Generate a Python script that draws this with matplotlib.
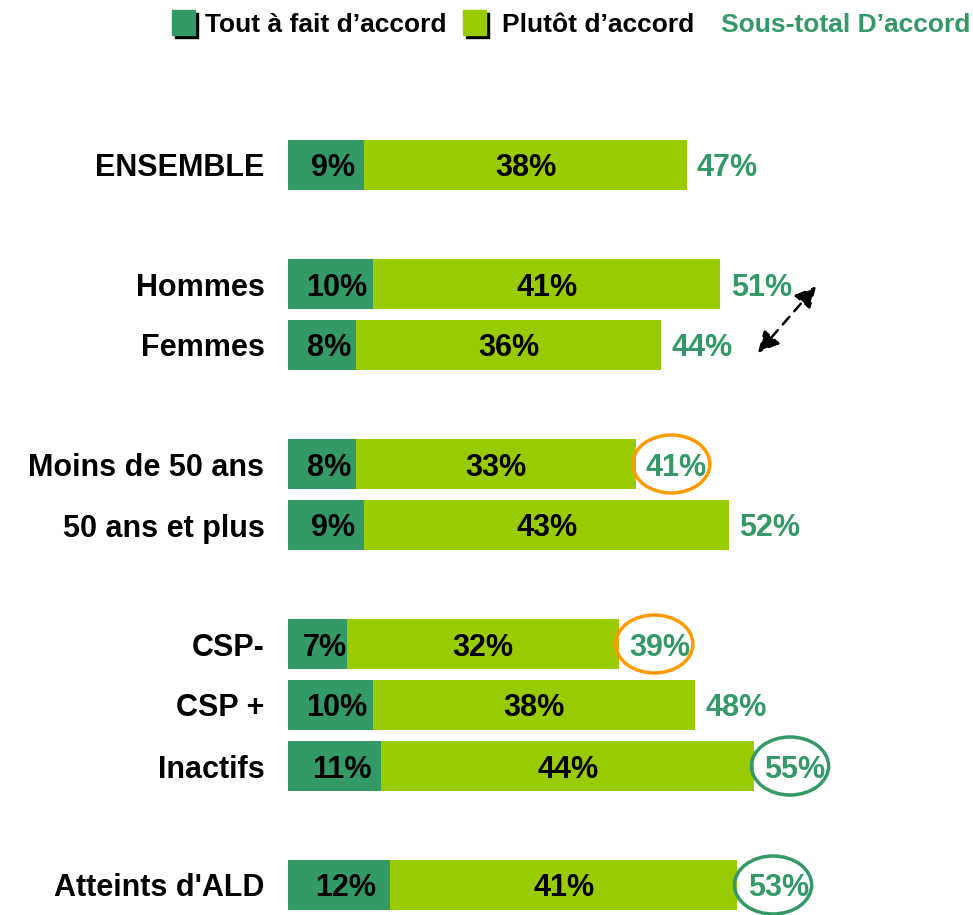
import matplotlib
matplotlib.use('Agg')
import matplotlib.pyplot as plt
from matplotlib.patches import Rectangle, Ellipse

plt.rcParams['font.family'] = ['Liberation Sans', 'DejaVu Sans']
plt.rcParams['font.weight'] = 'bold'

# Données
categories = ['ENSEMBLE', 'Hommes', 'Femmes', 'Moins de 50 ans', '50 ans et plus',
              'CSP-', 'CSP +', 'Inactifs', "Atteints d'ALD"]
groupes = [0, 1, 1, 2, 2, 3, 3, 3, 4]
tout_a_fait = [9, 10, 8, 8, 9, 7, 10, 11, 12]
plutot = [38, 41, 36, 33, 43, 32, 38, 44, 41]
sous_total = [47, 51, 44, 41, 52, 39, 48, 55, 53]
cercles = {"Moins de 50 ans": '#FF9900', 'CSP-': '#FF9900',
           'Inactifs': '#339966', "Atteints d'ALD": '#339966'}

vert_fonce = '#339966'
vert_clair = '#99CC00'

W, H = 973, 915
fig = plt.figure(figsize=(W / 100, H / 100), dpi=100)
px_pct = 8.48
x0 = 288
ax = fig.add_axes([x0 / W, 0, (W - x0) / W, 1])
ax.set_xlim(0, (W - x0) / px_pct)
ax.set_ylim(H, 0)

# positions verticales (pixels) : rangées de 61 px, espace de 58 px entre groupes
y = [165 + i * 61 + g * 58 for i, g in enumerate(groupes)]

ax.barh(y, tout_a_fait, height=50, color=vert_fonce)
ax.barh(y, plutot, left=tout_a_fait, height=50, color=vert_clair)

for yi, a, b, t, cat in zip(y, tout_a_fait, plutot, sous_total, categories):
    ax.text(a / 2 + 0.8, yi, f'{a}%', ha='center', va='center_baseline', fontsize=22, color='black')
    ax.text(a + b / 2, yi, f'{b}%', ha='center', va='center_baseline', fontsize=22, color='black')
    ax.text(t + 1.2, yi, f'{t}%', ha='left', va='center_baseline', fontsize=22, color=vert_fonce)
    if cat in cercles:
        ax.add_patch(Ellipse((t + 4.2, yi), 9.1, 58, fill=False,
                             edgecolor=cercles[cat], linewidth=2.5, clip_on=False))

ax.set_yticks(y)
ax.set_yticklabels(categories, fontsize=22)
ax.tick_params(axis='y', length=0, pad=17)
ax.set_xticks([])
for s in ax.spines.values():
    s.set_visible(False)

# flèche Hommes / Femmes
ax.annotate('', xy=(62.5, 284), xytext=(55.2, 355),
            arrowprops=dict(arrowstyle='<|-|>', color='black', linestyle=(0, (4, 3)),
                            lw=1.8, mutation_scale=32))

# légende
def fx(p):
    return p / W

def fy(p):
    return 1 - p / H

legende = [('Tout à fait d’accord', vert_fonce, 172, 205),
           ('Plutôt d’accord', vert_clair, 463, 502)]
for txt, col, xc, xt in legende:
    fig.patches.append(Rectangle((fx(xc + 3), fy(38)), fx(23), 25 / H, color='black',
                                 transform=fig.transFigure, figure=fig))
    fig.patches.append(Rectangle((fx(xc), fy(35)), fx(23), 25 / H, color=col,
                                 transform=fig.transFigure, figure=fig))
    fig.text(fx(xt), fy(22), txt, fontsize=19, va='center_baseline', ha='left')
fig.text(fx(721), fy(22), 'Sous-total D’accord', fontsize=19, va='center_baseline', ha='left',
         color=vert_fonce)

fig.savefig('out.png', dpi=100)
